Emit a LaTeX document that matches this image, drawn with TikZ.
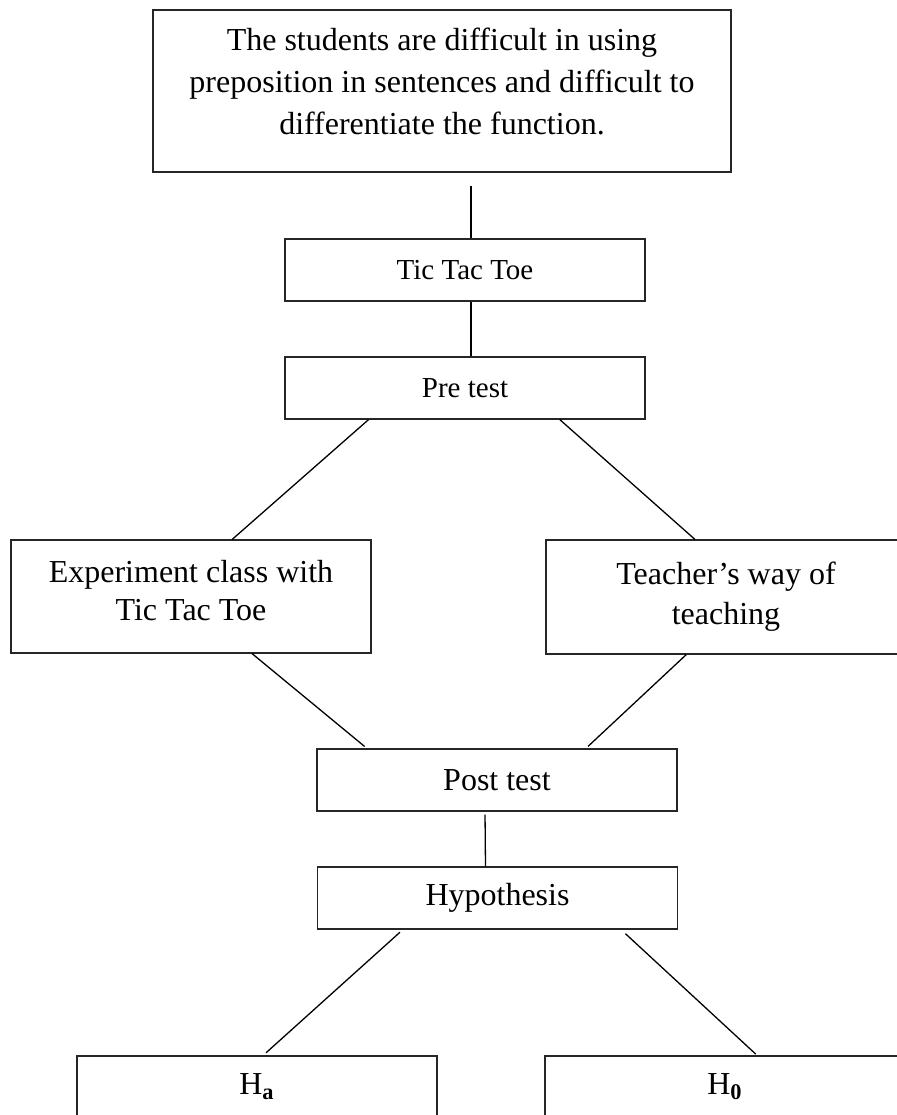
\documentclass[tikz,border=0pt]{standalone}
\usepackage{fontspec}
\setmainfont{Liberation Serif}
\usetikzlibrary{calc}

\begin{document}
\begin{tikzpicture}[
	x=0.5pt,
	y=-0.5pt,
	box/.style={
		draw=black!85,
		line width=0.6pt,
		align=center,
		inner sep=0pt,
		minimum width=180pt,
		minimum height=31pt,
		font=\fontsize{16}{19}\selectfont
	},
	smallbox/.style={
		box,
		font=\fontsize{14.5}{17}\selectfont
	},
	link/.style={
		draw=black,
		line width=0.65pt
	}
	]
	
	\useasboundingbox (0,0) rectangle (897,1115);
	\clip (0,0) rectangle (897,1115);
	
	\node[
	box,
	minimum width=289pt,
	minimum height=81pt,
	text depth=10pt,
	font=\fontsize{16}{21}\selectfont
	]
	(Prob) at (442,91)
	{The students are difficult in using\\
		preposition in sentences and difficult to\\
		differentiate the function.};
	
	\node[smallbox] (TTT) at (465,270) {Tic Tac Toe};
	
	\node[smallbox] (Pre) at (465,388) {Pre test};
	
	\node[
	box,
	minimum height=56.5pt,
	text depth=6pt
	]
	(Exp) at (191,596.5)
	{Experiment class with\\Tic Tac Toe};
	
	\node[
	box,
	minimum height=57pt,
	font=\fontsize{16}{20}\selectfont
	]
	(Tea) at (726,597)
	{Teacher’s way of\\teaching};
	
	\node[box] (Post) at (497,780) {Post test};
	
	\node[box] (Hyp) at (497.5,898) {Hypothesis};
	
	\node[box] (Ha) at (257,1087) {H\textsubscript{\textbf{a}}};
	
	\node[box] (Ho) at (725,1087) {H\textsubscript{\textbf{0}}};
	
	% vertical links
	\draw[link, shorten <=6.5pt]
	($(Prob.south -| TTT.north)+(3pt,0)$) -- ($(TTT.north)+(3pt,0)$);
	\draw[link]
	($(TTT.south)+(3pt,0)$) -- ($(Pre.north)+(3pt,0)$);
	\draw[link, shorten <=1.5pt]
	($(Post.south)+(-6pt,0)$) -- ($(Hyp.north)+(-6pt,0)$);
	
	% split after pre test
	\draw[link]
	($(Pre.south west)!0.233!(Pre.south east)$) -- ($(Exp.north west)!0.614!(Exp.north east)$);
	\draw[link]
	($(Pre.south west)!0.7625!(Pre.south east)$) -- ($(Tea.north west)!0.414!(Tea.north east)$);
	
	% join at post test
	\draw[link, shorten >=1.5pt]
	($(Exp.south west)!0.669!(Exp.south east)$) -- ($(Post.north west)!0.14!(Post.north east)$);
	\draw[link, shorten >=1.5pt]
	($(Tea.south west)!0.39!(Tea.south east)$) -- ($(Post.north west)!0.746!(Post.north east)$);
	
	% hypotheses
	\draw[link, shorten <=2pt, shorten >=2pt]
	($(Hyp.south west)!0.238!(Hyp.south east)$) -- ($(Ha.north west)!0.517!(Ha.north east)$);
	\draw[link, shorten <=3pt, shorten >=1pt]
	($(Hyp.south west)!0.842!(Hyp.south east)$) -- ($(Ho.north west)!0.589!(Ho.north east)$);
	
\end{tikzpicture}
\end{document}
